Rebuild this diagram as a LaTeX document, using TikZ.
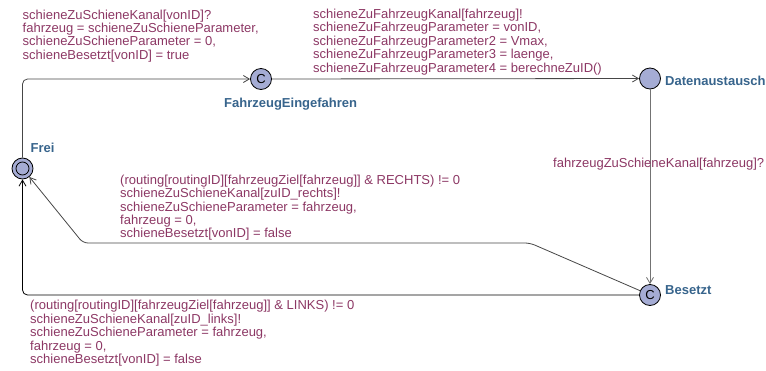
\documentclass[tikz,border=0pt]{standalone}
\usepackage{fontspec}
\setmainfont{Liberation Sans}
\usetikzlibrary{arrows.meta}
\definecolor{guardc}{RGB}{140,55,100}
\definecolor{locc}{RGB}{55,100,140}
\definecolor{fillc}{RGB}{165,172,212}
\definecolor{edgec}{RGB}{70,70,70}
\definecolor{edgel}{RGB}{115,115,115}
\begin{document}
\begin{tikzpicture}[x=1pt,y=-1pt,
  loc/.style={circle,draw=black,fill=fillc,minimum size=21pt,inner sep=0pt,line width=0.8pt,font=\fontsize{13}{13}\selectfont},
  inloc/.style={circle,draw=black,fill=fillc,minimum size=13pt,inner sep=0pt,line width=0.8pt},
  lab/.style={text=locc,font=\fontsize{13}{14}\selectfont\bfseries,inner sep=0pt,anchor=base west},
  guard/.style={text=guardc,font=\fontsize{13}{13.4}\selectfont,align=left,inner sep=0pt,anchor=north west},
  edge/.style={draw=edgec,line width=0.8pt,-{Straight Barb[length=6pt,width=7pt]}}]
\useasboundingbox (0,0) rectangle (766,370);

% locations
\node[loc] (frei) at (22.5,168.5) {};
\node[inloc] (freiin) at (frei.center) {};
\node[loc] (fe) at (261,79) {C};
\node[loc] (da) at (650,78.5) {};
\node[loc] (bes) at (650,295) {C};

\node[lab] (lfrei) at (30.5,152.5) {Frei};
\node[lab] (lfe) at (224,107) {FahrzeugEingefahren};
\node[lab] (lda) at (665,85) {Datenaustausch};
\node[lab] (lbes) at (665,294) {Besetzt};

% edges
\draw[edge,rounded corners=5pt] (frei) |- (fe);
\draw[edge] (fe) -- (da);
\draw[edge,draw=edgel] (da) -- (bes);
\coordinate (r1) at (530,243);
\coordinate (r2) at (83,243);
\draw[edge,rounded corners=5pt] (bes) -- (r1) -- (r2) -- (frei);
\draw[edge,draw=black,rounded corners=5pt] (bes) -| (frei);

% guards / syncs / updates
\node[guard] (g1) at (22.5,9.5) {schieneZuSchieneKanal[vonID]?\\fahrzeug = schieneZuSchieneParameter,\\schieneZuSchieneParameter = 0,\\schieneBesetzt[vonID] = true};
\node[guard] (g2) at (313,8.8) {schieneZuFahrzeugKanal[fahrzeug]!\\schieneZuFahrzeugParameter = vonID,\\schieneZuFahrzeugParameter2 = Vmax,\\schieneZuFahrzeugParameter3 = laenge,\\schieneZuFahrzeugParameter4 = berechneZuID()};
\node[guard,anchor=base west] (g3) at (553,167) {fahrzeugZuSchieneKanal[fahrzeug]?};
\node[guard] (g4) at (120,174.7) {(routing[routingID][fahrzeugZiel[fahrzeug]] \& RECHTS) != 0\\schieneZuSchieneKanal[zuID\_rechts]!\\schieneZuSchieneParameter = fahrzeug,\\fahrzeug = 0,\\schieneBesetzt[vonID] = false};
\node[guard] (g5) at (30,300.3) {(routing[routingID][fahrzeugZiel[fahrzeug]] \& LINKS) != 0\\schieneZuSchieneKanal[zuID\_links]!\\schieneZuSchieneParameter = fahrzeug,\\fahrzeug = 0,\\schieneBesetzt[vonID] = false};
\end{tikzpicture}
\end{document}
